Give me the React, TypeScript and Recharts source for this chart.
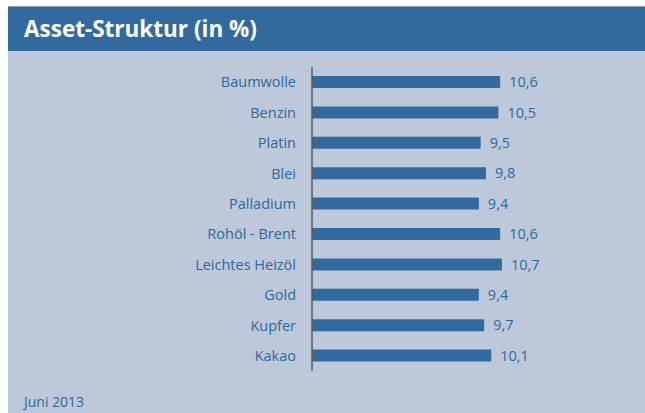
import { BarChart, Bar, XAxis, YAxis, LabelList } from "recharts";

const categories = [
  "Baumwolle",
  "Benzin",
  "Platin",
  "Blei",
  "Palladium",
  "Rohöl - Brent",
  "Leichtes Heizöl",
  "Gold",
  "Kupfer",
  "Kakao",
];
const shares = [10.6, 10.5, 9.5, 9.8, 9.4, 10.6, 10.7, 9.4, 9.7, 10.1];

const data = categories.map((name, i) => ({ name, value: shares[i] }));

const FONT = "'Open Sans', 'DejaVu Sans', sans-serif";
const TEXT = "#2c6a9b";
const BLUE = "#336a9e";
const PANEL = "#bdc8da";

function formatDE(v: number) {
  return v.toFixed(1).replace(".", ",");
}

export default function App() {
  return (
    <div
      style={{
        position: "fixed",
        left: 8,
        width: 660,
        top: 6,
        bottom: 0,
        background: PANEL,
        borderTop: "1px solid #8d9db3",
        fontFamily: FONT,
        overflow: "hidden",
      }}
    >
      <div
        style={{
          height: 44,
          background: BLUE,
          color: "#fff",
          fontWeight: 700,
          fontSize: 22.5,
          lineHeight: "44px",
          paddingLeft: 16,
        }}
      >
        Asset-Struktur (in %)
      </div>
      <BarChart
        width={637}
        height={330}
        data={data}
        layout="vertical"
        margin={{ top: 16, right: 120, bottom: 10, left: 0 }}
        barCategoryGap={9}
      >
        <XAxis type="number" domain={[0, 12]} hide />
        <YAxis
          type="category"
          dataKey="name"
          width={304}
          tickLine={false}
          tickSize={0}
          tickMargin={16}
          axisLine={{ stroke: "#5a5a5a", strokeWidth: 1.5 }}
          tick={{ fontSize: 14.5, fill: TEXT, fontFamily: FONT }}
        />
        <Bar dataKey="value" fill={BLUE} barSize={12} isAnimationActive={false}>
          <LabelList
            dataKey="value"
            position="right"
            offset={9}
            formatter={(v: number) => formatDE(v)}
            style={{ fontSize: 14.5, fill: TEXT, fontFamily: FONT }}
          />
        </Bar>
      </BarChart>
      <div
        style={{
          position: "absolute",
          left: 16,
          top: 385,
          fontSize: 14,
          color: TEXT,
        }}
      >
        Juni 2013
      </div>
    </div>
  );
}
